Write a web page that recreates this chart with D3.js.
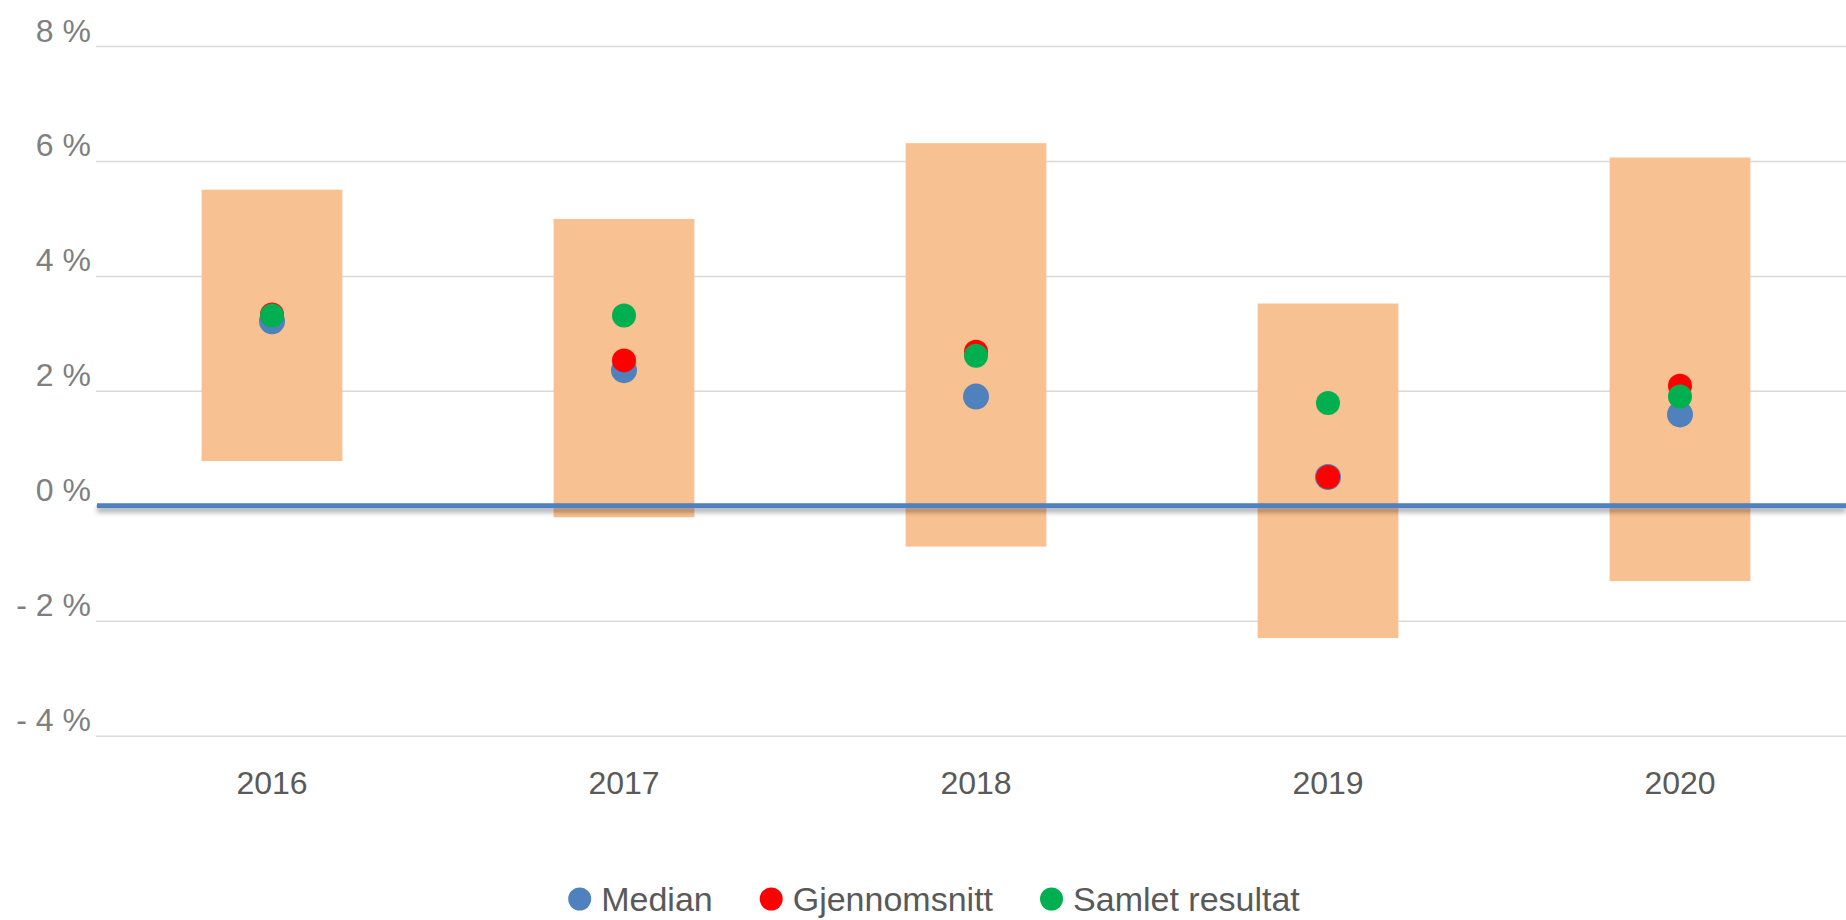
<!DOCTYPE html>
<html>
<head>
<meta charset="utf-8">
<script src="https://cdn.jsdelivr.net/npm/d3@7"></script>
<style>
  html, body { margin: 0; padding: 0; background: #fff; }
  svg { display: block; font-family: "Liberation Sans", Arial, sans-serif; }
</style>
</head>
<body>
<svg id="chart"></svg>
<script>
// data
const years = ["2016", "2017", "2018", "2019", "2020"];
const rangeLow = [0.78, -0.2, -0.71, -2.3, -1.31];
const rangeHigh = [5.5, 4.99, 6.31, 3.52, 6.06];
const median = [3.21, 2.36, 1.9, 0.5, 1.59];
const gjennomsnitt = [3.33, 2.53, 2.68, 0.5, 2.09];
const samlet = [3.31, 3.31, 2.61, 1.79, 1.9];
const yTicks = [-4, -2, 0, 2, 4, 6, 8];

const series = [
  { name: "Median", values: median, color: "#4F81BD", r: 13 },
  { name: "Gjennomsnitt", values: gjennomsnitt, color: "#FF0000", r: 12 },
  { name: "Samlet resultat", values: samlet, color: "#00B050", r: 12 }
];

const dimensions = {
  width: 1846,
  height: 920,
  margin: { top: 46, right: -10, bottom: 184.3, left: 96 }
};
dimensions.boundedWidth = dimensions.width - dimensions.margin.left - dimensions.margin.right;
dimensions.boundedHeight = dimensions.height - dimensions.margin.top - dimensions.margin.bottom;

const wrapper = d3.select("#chart")
  .attr("width", dimensions.width)
  .attr("height", dimensions.height);

const bounds = wrapper.append("g")
  .attr("transform", `translate(${dimensions.margin.left},${dimensions.margin.top})`);

// scales
const xScale = d3.scaleBand()
  .domain(years)
  .range([0, dimensions.boundedWidth])
  .padding(0);

const yScale = d3.scaleLinear()
  .domain([-4, 8])
  .range([dimensions.boundedHeight, 0]);

// shadow under the zero line (user space, since a flat line has no height)
const defs = wrapper.append("defs");
const shadow = defs.append("filter").attr("id", "shadow")
  .attr("filterUnits", "userSpaceOnUse")
  .attr("x", -10).attr("y", yScale(0) - 20)
  .attr("width", dimensions.width + 20).attr("height", 40);
shadow.append("feDropShadow")
  .attr("dx", 0).attr("dy", 4).attr("stdDeviation", 2.5)
  .attr("flood-color", "#000").attr("flood-opacity", 0.35);

const fmt = d => (d < 0 ? "- " + Math.abs(d) : d) + " %";

// y axis + gridlines
const yAxis = bounds.append("g")
  .call(d3.axisLeft(yScale)
    .tickValues(yTicks)
    .tickSize(-(dimensions.width - dimensions.margin.left))
    .tickFormat(fmt));
yAxis.select(".domain").remove();
yAxis.selectAll(".tick line")
  .attr("stroke", "#D9D9D9")
  .attr("stroke-width", 1.5);
yAxis.selectAll(".tick text")
  .attr("x", -5)
  .attr("y", -5)
  .attr("dy", 0)
  .attr("fill", "#7F7F7F")
  .style("font-size", "32px");

// x axis labels
const xAxis = bounds.append("g")
  .attr("transform", `translate(0,${dimensions.boundedHeight})`)
  .call(d3.axisBottom(xScale).tickSize(0));
xAxis.select(".domain").remove();
xAxis.selectAll(".tick text")
  .attr("y", 58)
  .attr("dy", 0)
  .attr("fill", "#595959")
  .style("font-size", "32px");

// range boxes
const boxWidth = xScale.bandwidth() * 0.4;
bounds.append("g")
  .selectAll("rect")
  .data(years)
  .join("rect")
  .attr("x", d => xScale(d) + (xScale.bandwidth() - boxWidth) / 2)
  .attr("y", (d, i) => yScale(rangeHigh[i]))
  .attr("width", boxWidth)
  .attr("height", (d, i) => yScale(rangeLow[i]) - yScale(rangeHigh[i]))
  .attr("fill", "#F8C191");

// zero line
bounds.append("g")
  .attr("filter", "url(#shadow)")
  .append("line")
  .attr("x1", 1)
  .attr("x2", dimensions.width - dimensions.margin.left)
  .attr("y1", yScale(0))
  .attr("y2", yScale(0))
  .attr("stroke", "#4F81BD")
  .attr("stroke-width", 5);

// dots
series.forEach(s => {
  bounds.append("g")
    .selectAll("circle")
    .data(years)
    .join("circle")
    .attr("cx", d => xScale(d) + xScale.bandwidth() / 2)
    .attr("cy", (d, i) => yScale(s.values[i]))
    .attr("r", s.r)
    .attr("fill", s.color);
});

// legend
const legend = wrapper.append("g").attr("transform", "translate(0,899)");
let lx = 0;
const items = legend.selectAll("g")
  .data(series)
  .join("g");
items.append("circle")
  .attr("r", 11.5)
  .attr("fill", d => d.color);
items.append("text")
  .attr("x", 21.5)
  .attr("dy", "0.35em")
  .attr("fill", "#595959")
  .style("font-size", "34px")
  .text(d => d.name);
items.each(function () {
  const w = d3.select(this).select("text").node().getComputedTextLength();
  d3.select(this).attr("transform", `translate(${lx + 11.5},0)`);
  lx += 23 + 10 + w + 47;
});
const legendWidth = lx - 47;
legend.attr("transform", `translate(${934 - legendWidth / 2},899)`);
</script>
</body>
</html>
